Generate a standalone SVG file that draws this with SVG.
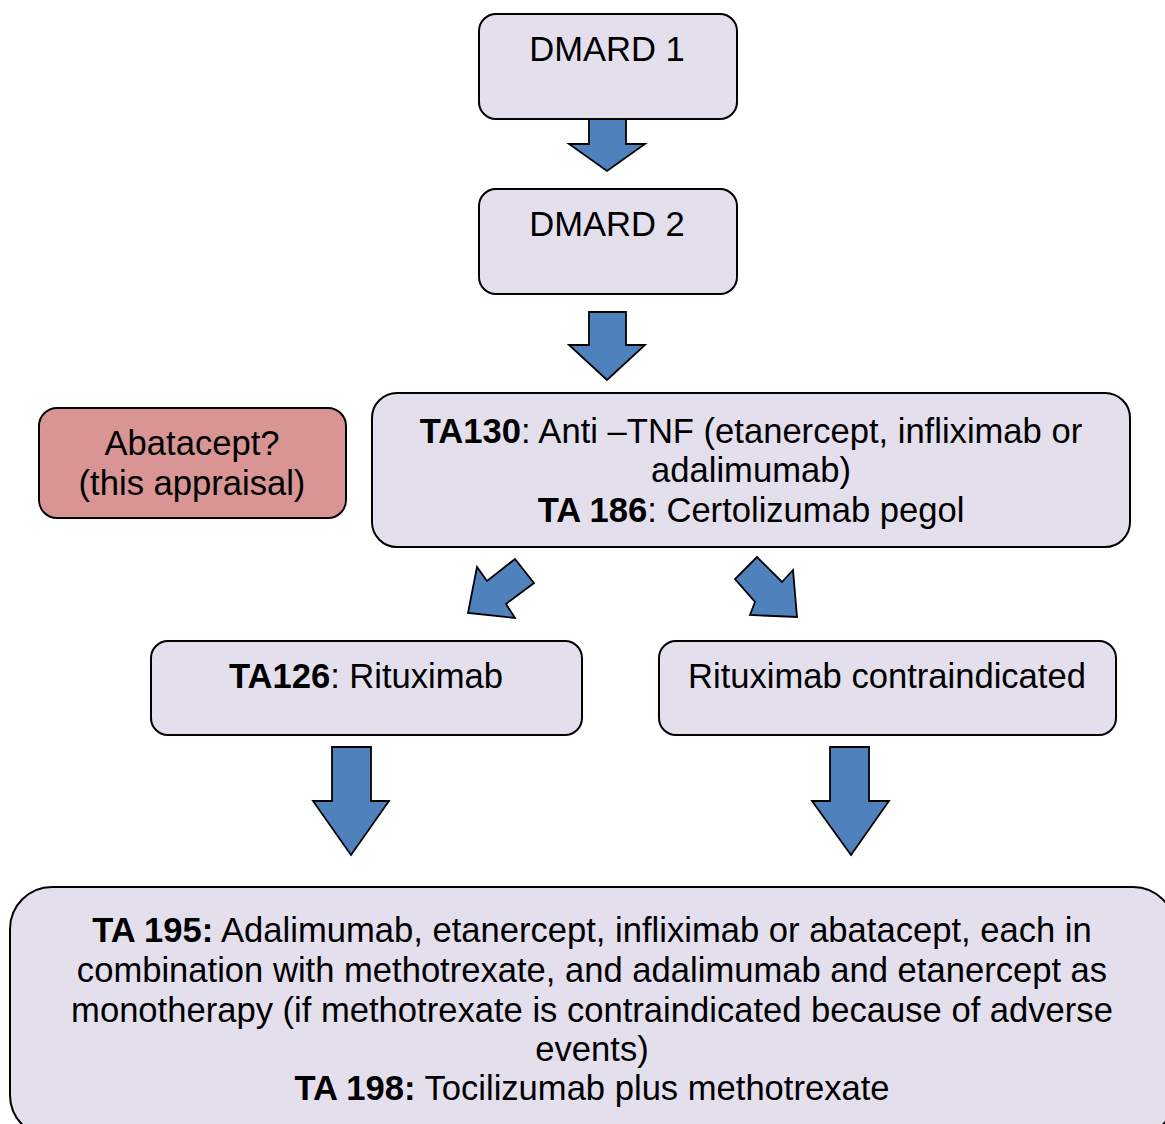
<svg xmlns="http://www.w3.org/2000/svg" width="1165" height="1124" viewBox="0 0 1165 1124">
<style>
.box{fill:#e4dfec;stroke:#000;stroke-width:2}
.red{fill:#d99594;stroke:#000;stroke-width:2}
.arr{fill:#4f81bd;stroke:#000;stroke-width:1.8;stroke-linejoin:miter}
text{font-family:"Liberation Sans",Arial,sans-serif;font-size:34.6px;fill:#000;text-anchor:middle}
.b{font-weight:bold}
</style>
<rect width="1165" height="1124" fill="#fff"/>
<g id="connectors">
<polygon class="arr" points="589,118 626,118 626,144 645,144 607,171 569,144 589,144"/>
<polygon class="arr" points="589,312 626,312 626,345 645,345 607,380 569,345 589,345"/>
<polygon class="arr" points="515,559 534,583 506,604 515,618 468,613 477,567 487,581"/>
<polygon class="arr" points="757,557 735,579 755,602 750,615 797,617 793,570 782,582"/>
<polygon class="arr" points="332,747 371,747 371,801 389,801 351,855 313,801 332,801"/>
<polygon class="arr" points="830,747 869,747 869,801 889,801 851,855 812,801 830,801"/>
</g>
<g id="dmard1">
<rect class="box" x="479" y="14" width="258" height="105" rx="17"/>
<text x="607" y="61">DMARD 1</text>
</g>
<g id="dmard2">
<rect class="box" x="479" y="189" width="258" height="105" rx="17"/>
<text x="607" y="236">DMARD 2</text>
</g>
<g id="abatacept">
<rect class="red" x="39" y="408" width="307" height="110" rx="18"/>
<text x="192" y="455">Abatacept?</text>
<text x="192" y="495">(this appraisal)</text>
</g>
<g id="ta130">
<rect class="box" x="372" y="393" width="758" height="154" rx="25"/>
<text x="751" y="443"><tspan class="b">TA130</tspan>: Anti –TNF (etanercept, infliximab or</text>
<text x="751" y="482">adalimumab)</text>
<text x="751" y="522"><tspan class="b">TA 186</tspan>: Certolizumab pegol</text>
</g>
<g id="ta126">
<rect class="box" x="151" y="641" width="431" height="94" rx="17"/>
<text x="366" y="688"><tspan class="b">TA126</tspan>: Rituximab</text>
</g>
<g id="contra">
<rect class="box" x="659" y="641" width="457" height="94" rx="17"/>
<text x="887" y="688">Rituximab contraindicated</text>
</g>
<g id="ta195">
<rect class="box" x="10" y="887" width="1165" height="250" rx="42"/>
<text x="592" y="942"><tspan class="b">TA 195:</tspan> Adalimumab, etanercept, infliximab or abatacept, each in</text>
<text x="592" y="982">combination with methotrexate, and adalimumab and etanercept as</text>
<text x="592" y="1022">monotherapy (if methotrexate is contraindicated because of adverse</text>
<text x="592" y="1061">events)</text>
<text x="592" y="1100"><tspan class="b">TA 198:</tspan> Tocilizumab plus methotrexate</text>
</g>
</svg>
